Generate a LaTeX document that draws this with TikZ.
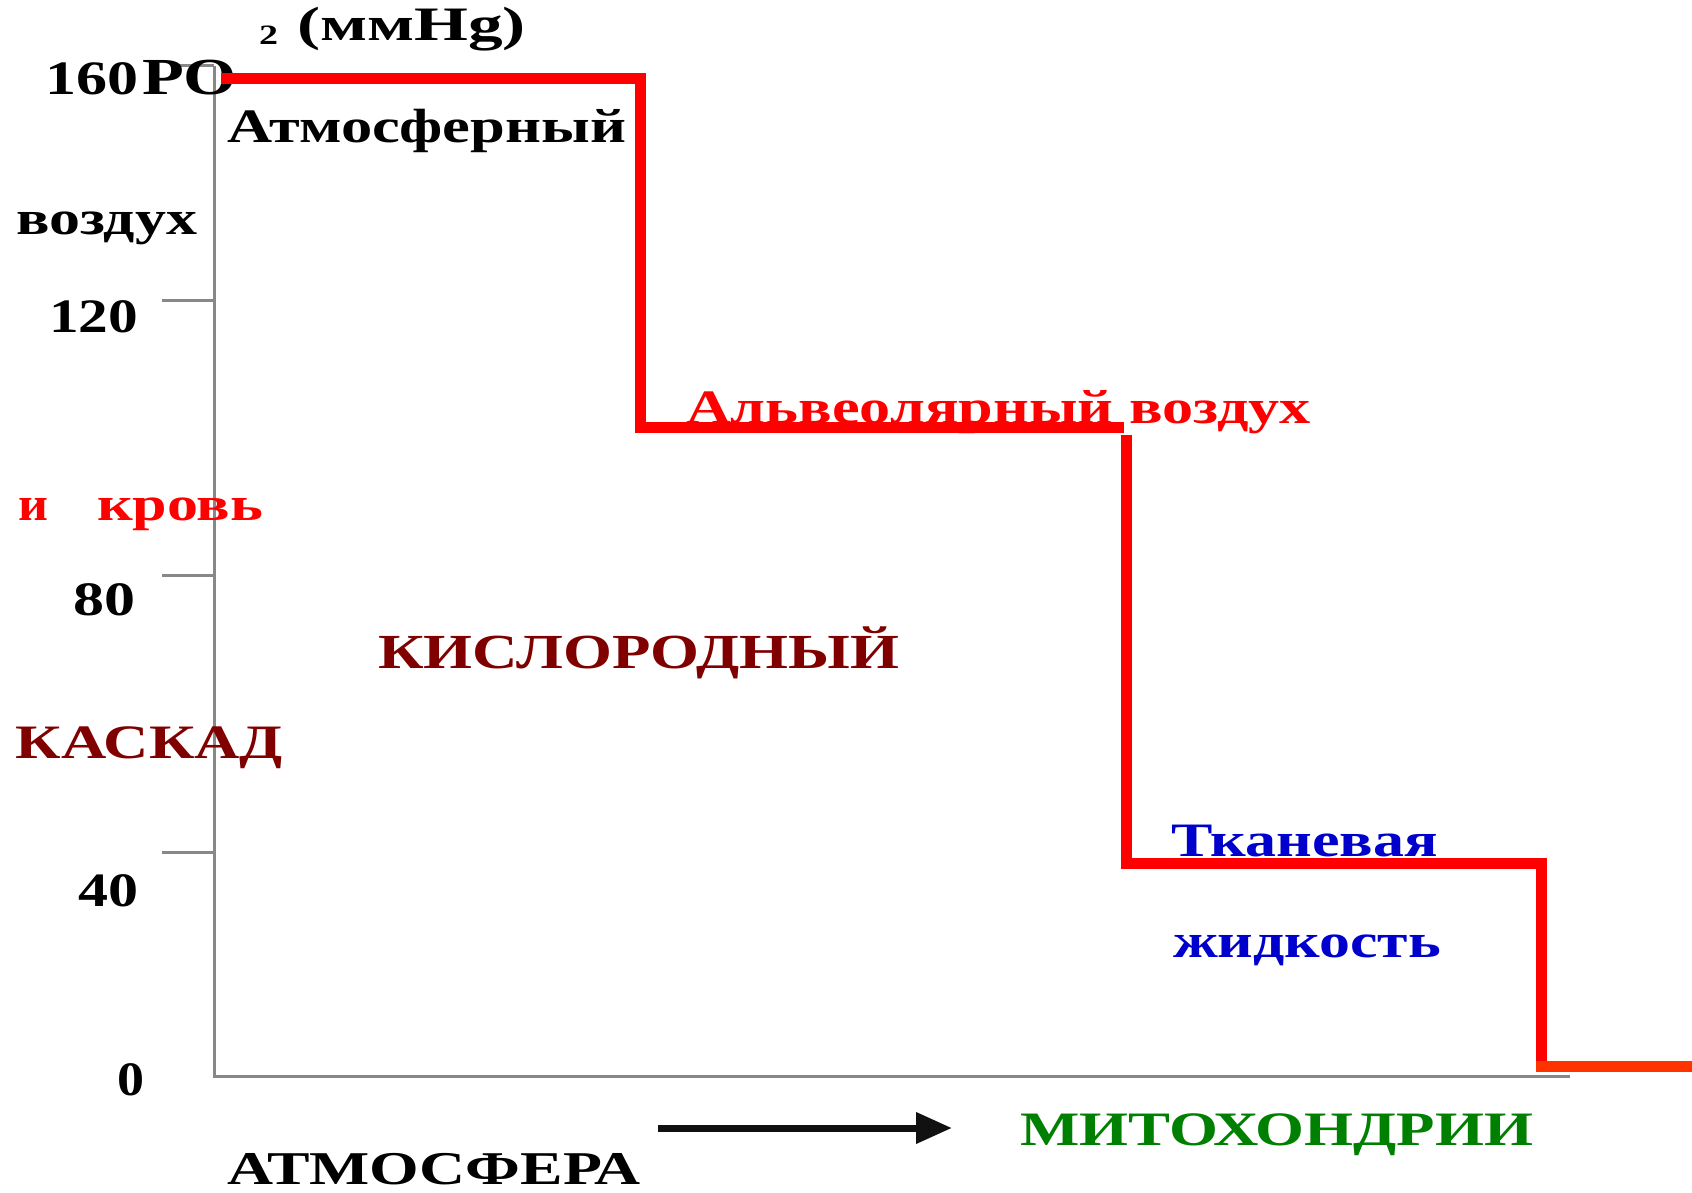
\documentclass[tikz,border=0pt]{standalone}
\usepackage{fontspec}
\setmainfont{Liberation Serif}
\usepackage{graphicx}
\usetikzlibrary{arrows.meta}
\definecolor{axisgray}{RGB}{136,136,136}
\definecolor{stepred}{RGB}{255,0,0}
\definecolor{lastred}{RGB}{255,51,0}
\definecolor{cascadered}{RGB}{128,0,0}
\definecolor{tissueblue}{RGB}{0,0,204}
\definecolor{mitogreen}{RGB}{0,128,0}
\definecolor{arrowblack}{RGB}{17,17,17}
\newcommand\fittext[3]{\resizebox{#1pt}{\height}{\fontsize{#2pt}{#2pt}\selectfont\bfseries #3}}
\begin{document}
\begin{tikzpicture}[x=1pt,y=-1pt,
  lbl/.style={inner sep=0pt, outer sep=0pt, anchor=base west},
  axisline/.style={draw=axisgray, line width=3pt},
  stepline/.style={draw=stepred, line width=11pt},
  lastline/.style={draw=lastred, line width=11pt},
  flowarrow/.style={draw=arrowblack, line width=7pt, -{Triangle[length=36pt,width=30pt]}}]
\fill[white] (0,0) rectangle (1692,1193);
\useasboundingbox (0,0) rectangle (1692,1193);

% axes
\coordinate (top) at (214,66);
\coordinate (origin) at (214,1076);
\coordinate (xend) at (1570,1076);
\draw[axisline] (top) -- (origin) -- (xend);
\draw[axisline] (178,66) -- (top);
\draw[axisline] (162,300) -- (214,300);
\draw[axisline] (162,575) -- (214,575);
\draw[axisline] (162,852) -- (214,852);

% axis labels
\node[lbl] (v160) at (45,95) {\fittext{93}{48}{160}};
\node[lbl] (po) at (142,95) {\fittext{95}{52}{PO}};
\node[lbl] (sub2) at (259,45) {\fittext{19}{28}{2}};
\node[lbl] (unit) at (297,41) {\fittext{229}{48}{(ммHg)}};
\node[lbl] (v120) at (49,332) {\fittext{89}{48}{120}};
\node[lbl] (v80) at (73,615) {\fittext{62}{48}{80}};
\node[lbl] (v40) at (78,906) {\fittext{60}{48}{40}};
\node[lbl] (v0) at (117,1095) {\fittext{27}{48}{0}};

% side texts
\node[lbl] (atm) at (227,143) {\fittext{399}{48}{Атмосферный}};
\node[lbl] (air) at (16,235) {\fittext{181}{48}{воздух}};
\node[lbl, text=stepred] (andw) at (18,520) {\fittext{30}{48}{и}};
\node[lbl, text=stepred] (blood) at (97,520) {\fittext{166}{48}{кровь}};
\node[lbl, text=cascadered] (cascade) at (16,758) {\fittext{267}{48}{КАСКАД}};
\node[lbl, text=cascadered] (oxygen) at (378,668) {\fittext{521}{49}{КИСЛОРОДНЫЙ}};
\node[lbl, text=stepred] (alv) at (686,423) {\fittext{625}{48}{Альвеолярный воздух}};
\node[lbl, text=tissueblue] (tissue) at (1171,856) {\fittext{267}{48}{Тканевая}};
\node[lbl, text=tissueblue] (fluid) at (1173,957) {\fittext{268}{48}{жидкость}};
\node[lbl, text=mitogreen] (mito) at (1020,1145) {\fittext{513}{48}{МИТОХОНДРИИ}};
\node[lbl] (atmos) at (227,1184) {\fittext{413}{47}{АТМОСФЕРА}};

% cascade steps
\coordinate (s0) at (221,79);
\coordinate (s1) at (640,79);
\coordinate (s2) at (640,427);
\coordinate (s3) at (1124,427);
\coordinate (s4) at (1126,435);
\coordinate (s5) at (1126,863);
\coordinate (s6) at (1541,863);
\coordinate (s7) at (1541,1072);
\coordinate (s8) at (1536,1066);
\coordinate (s9) at (1692,1066);
\draw[stepline] (s0) -- (s1) -- (s2) -- (s3);
\draw[stepline] (s4) -- (s5) -- (s6) -- (s7);
\draw[lastline] (s8) -- (s9);

% flow arrow
\coordinate (arrowstart) at (658,1128);
\coordinate (arrowend) at (952,1128);
\draw[flowarrow] (arrowstart) -- (arrowend);
\end{tikzpicture}
\end{document}
